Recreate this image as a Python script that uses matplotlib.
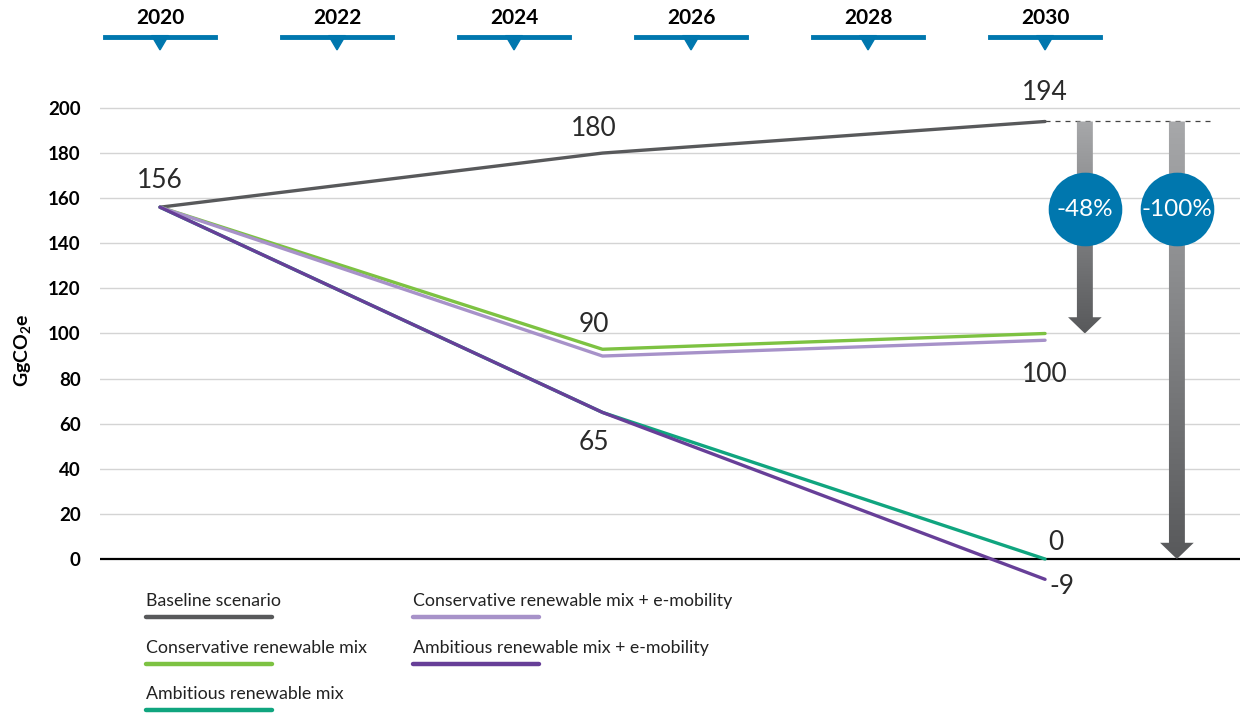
import numpy as np
import matplotlib
matplotlib.use("Agg")
import matplotlib.pyplot as plt
from matplotlib.lines import Line2D
from matplotlib.patches import Polygon
from matplotlib.transforms import blended_transform_factory

plt.rcParams['font.family'] = ['Lato', 'DejaVu Sans']

# 数据
years = [2020, 2025, 2030]
timeline_years = [2020, 2022, 2024, 2026, 2028, 2030]
baseline = [156, 180, 194]
conservative = [156, 93, 100]
conservative_emob = [156, 90, 97]
ambitious = [156, 65, 0]
ambitious_emob = [156, 65, -9]
reductions = ["-48%", "-100%"]
y_ticks = [0, 20, 40, 60, 80, 100, 120, 140, 160, 180, 200]

series = [
    ("Baseline scenario", baseline, "#58595b"),
    ("Conservative renewable mix", conservative, "#7dc242"),
    ("Ambitious renewable mix", ambitious, "#10a57f"),
    ("Conservative renewable mix + e-mobility", conservative_emob, "#a792c9"),
    ("Ambitious renewable mix + e-mobility", ambitious_emob, "#673f98"),
]
blue = "#0077ae"

fig = plt.figure(figsize=(12.44, 7.13), dpi=100)
ax = fig.add_axes([0.0804, 0.1527, 0.9164, 0.7117])
ax.set_xlim(2019.322, 2032.203)
ax.set_ylim(-20, 205)

# 网格线
for y in y_ticks:
    if y == 0:
        ax.axhline(0, color="black", lw=1.6, zorder=2)
    else:
        ax.axhline(y, color="#d4d4d4", lw=1.0, zorder=1)
for s in ax.spines.values():
    s.set_visible(False)
ax.set_xticks([])
ax.set_yticks(y_ticks)
ax.set_yticklabels([str(v) for v in y_ticks], fontsize=13.5, fontweight="bold")
ax.tick_params(axis="y", length=0, pad=14)
ax.set_ylabel("GgCO$_\\mathregular{2}$e", fontsize=14, fontweight="bold", labelpad=10)

# 折线 (画的顺序让紫色在最上面)
order = [0, 1, 3, 2, 4]
for i in order:
    name, vals, col = series[i]
    ax.plot(years, vals, color=col, lw=2.4, solid_capstyle="round", zorder=4 + i, clip_on=False)

# 数值标注
lab = dict(fontsize=19, color="#2a2a2a", textcoords="offset points",
           ha="center", va="center")
ax.annotate("156", (years[0], baseline[0]), xytext=(0, 19), **lab)
ax.annotate("180", (years[1], baseline[1]), xytext=(-6.5, 18), **lab)
ax.annotate(str(baseline[2]), (years[2], baseline[2]), xytext=(0, 21), **lab)
ax.annotate(str(conservative_emob[1]), (years[1], conservative_emob[1]), xytext=(-6.5, 23), **lab)
ax.annotate(str(ambitious[1]), (years[1], ambitious[1]), xytext=(-6.5, -22), **lab)
ax.annotate(str(conservative[2]), (years[2], conservative[2]), xytext=(0, -29.5), **lab)
ax.annotate(str(ambitious[2]), (years[2], ambitious[2]), xytext=(8, 12), **lab)
ax.annotate(str(ambitious_emob[2]), (years[2], ambitious_emob[2]), xytext=(12, -5), **lab)

# 基准虚线
ax.plot([years[2], 2031.86], [baseline[2], baseline[2]], color="#444444", lw=0.9,
        ls=(0, (4, 4)), zorder=3)

# 渐变箭头
def grad_arrow(x, y0, y1):
    sw, hw, hl = 0.09, 0.19, 7.2
    pts = [(x - sw, y0), (x + sw, y0), (x + sw, y1 + hl), (x + hw, y1 + hl),
           (x, y1), (x - hw, y1 + hl), (x - sw, y1 + hl)]
    poly = Polygon(pts, closed=True, facecolor="none", edgecolor="none")
    ax.add_patch(poly)
    grad = np.linspace(0, 1, 256).reshape(-1, 1)
    im = ax.imshow(grad, cmap=matplotlib.colors.LinearSegmentedColormap.from_list(
        "g", ["#a7a8aa", "#58595b"]), aspect="auto",
        extent=(x - hw, x + hw, y1, y0), origin="upper", zorder=5)
    im.set_clip_path(poly)

arrow_x = [2030.45, 2031.49]
grad_arrow(arrow_x[0], baseline[2], conservative[2])
grad_arrow(arrow_x[1], baseline[2], ambitious[2])
ax.set_xlim(2019.322, 2032.203)
ax.set_ylim(-20, 205)

for x, txt in zip(arrow_x, reductions):
    ax.plot([x], [155], "o", ms=53, color=blue, mec="none", zorder=8)
    ax.text(x, 155, txt, color="white", fontsize=17.5,
            ha="center", va="center", zorder=9)

# 顶部时间轴
tr = blended_transform_factory(ax.transData, fig.transFigure)
for yr in timeline_years:
    ax.add_line(Line2D([yr - 0.62, yr + 0.62], [0.948, 0.948], color=blue, lw=3.5,
                       transform=tr, clip_on=False))
    ax.add_patch(Polygon([(yr - 0.095, 0.950), (yr + 0.095, 0.950), (yr, 0.930)],
                         closed=True, color=blue, transform=tr, clip_on=False))
    ax.text(yr, 0.975, str(yr), transform=tr, ha="center", va="center",
            fontsize=15, fontweight="bold")

# 图例
legend_pos = [(146, 601), (146, 648), (146, 694), (413, 601), (413, 648)]
W, H = 1244, 713
for (name, vals, col), (px, py) in zip(series, legend_pos):
    fig.text(px / W, 1 - py / H, name, fontsize=12.8, ha="left", va="center", color="#222222")
    fig.add_artist(Line2D([px / W, (px + 126) / W], [1 - (py + 16) / H] * 2,
                          color=col, lw=3.2, solid_capstyle="round"))

fig.savefig("out.png", dpi=100)
